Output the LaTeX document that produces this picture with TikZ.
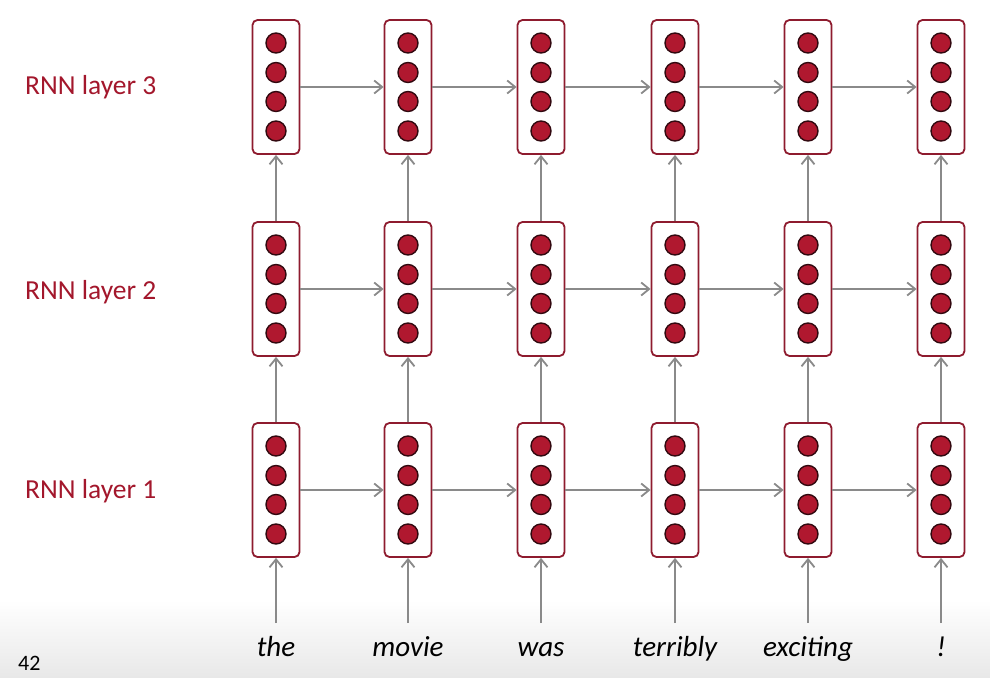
\documentclass[tikz,border=0pt]{standalone}
\usepackage{fontspec}
\setmainfont{Carlito}
\usetikzlibrary{shapes}
\usetikzlibrary{arrows.meta}
\usetikzlibrary{positioning}
\definecolor{rnnred}{HTML}{8E1B2E}
\definecolor{cellred}{HTML}{B0182F}
\definecolor{labelred}{HTML}{A3172C}
\definecolor{arrowgray}{HTML}{8A8A8A}

\begin{document}
\begin{tikzpicture}[x=1pt,y=-1pt]
				\tikzstyle{cellbox}=[rectangle,rounded corners=5pt,draw=rnnred,line width=1.8pt,fill=white,minimum width=47pt,minimum height=134pt,inner sep=0pt]
				\tikzstyle{unit}=[circle,draw=black!65!rnnred,fill=cellred,line width=1.4pt,minimum size=20pt,inner sep=0pt]
				\tikzstyle{link}=[-{Straight Barb[length=8pt,width=13pt]},draw=arrowgray,line width=1.8pt]
				\tikzstyle{word}=[font=\fontsize{29}{34}\selectfont\itshape,anchor=base,inner sep=0pt]
				\tikzstyle{layername}=[font=\fontsize{27.5}{32}\selectfont,text=labelred,anchor=west,inner sep=0pt]
				
				\useasboundingbox (0,0) rectangle (990,677);
				\shade[top color=white,bottom color=black!9] (0,600) rectangle (990,677);
				
				% boxes of hidden units
				\foreach \x/\w [count=\i] in {276/the,408/movie,541/was,675/terribly,808/exciting,941/!}{
					\foreach \r/\y in {1/490,2/289,3/87}{
						\node[cellbox] (h\r-\i) at (\x,\y) {};
						\foreach \d [count=\k] in {-44,-14.5,14.5,44}
						\node[unit] (h\r-\i-\k) at ([yshift=\d pt]h\r-\i.center) {};
					}
					\node[word] (w\i) at (\x,656) {\w};
					\coordinate (in\i) at (\x,623);
				}
				
				% connections
				\foreach \i [count=\j from 2] in {1,...,5}{
					\foreach \r in {1,2,3}
					\draw[link] (h\r-\i) -- (h\r-\j);
				}
				\foreach \i in {1,...,6}{
					\draw[link] (in\i) -- (h1-\i);
					\draw[link] (h1-\i) -- (h2-\i);
					\draw[link] (h2-\i) -- (h3-\i);
				}
				
				\node[layername] (l3) at (25,87) {RNN layer 3};
				\node[layername] (l2) at (25,292) {RNN layer 2};
				\node[layername] (l1) at (25,491) {RNN layer 1};
				\node[font=\fontsize{22}{26}\selectfont,anchor=base west,inner sep=0pt] (page) at (18,670) {42};
				
				;\end{tikzpicture}
\end{document}
